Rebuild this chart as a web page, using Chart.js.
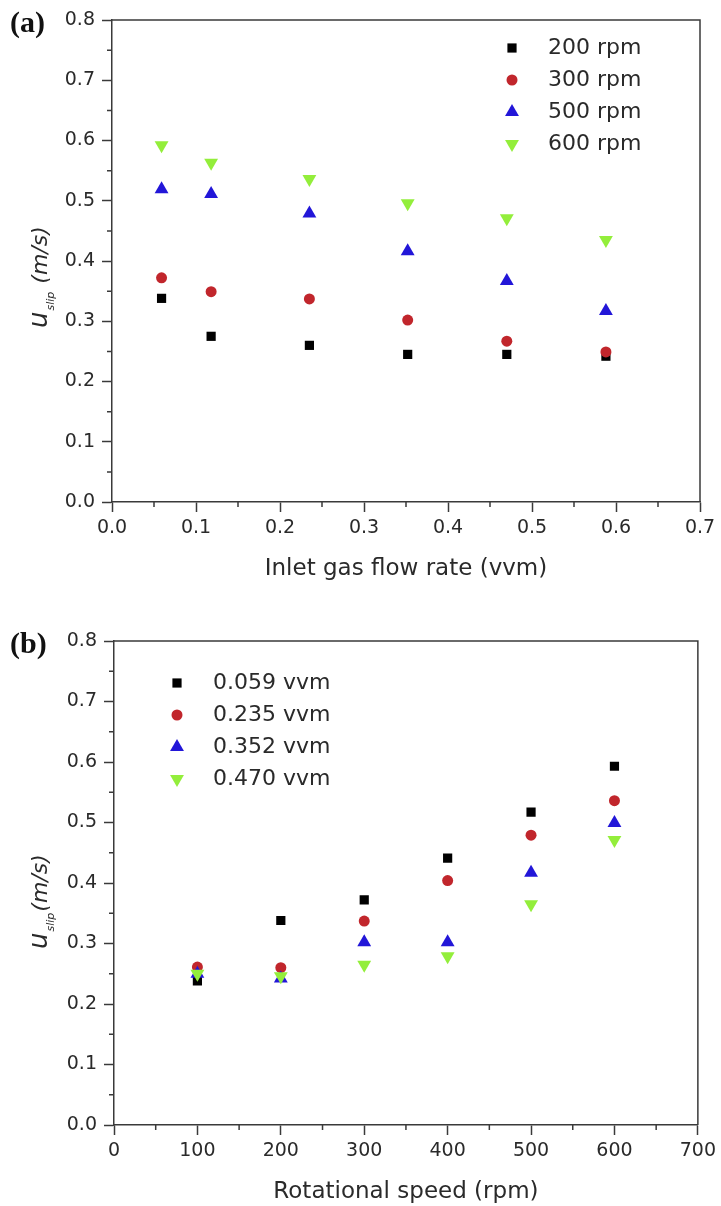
<!DOCTYPE html>
<html>
<head>
<meta charset="utf-8">
<script src="https://cdn.jsdelivr.net/npm/chart.js@4.4.1/dist/chart.umd.min.js"></script>
<style>
  html, body { margin: 0; padding: 0; background: #fff; }
  canvas { display: block; }
</style>
</head>
<body>
<canvas id="chartA" width="721" height="622"></canvas>
<canvas id="chartB" width="721" height="584"></canvas>
<script>
// (a) slip velocity against inlet gas flow rate
const flowRates = [0.059, 0.118, 0.235, 0.352, 0.470, 0.588];
const rpmLabels = ['200 rpm', '300 rpm', '500 rpm', '600 rpm'];
const slip200 = [0.338, 0.275, 0.260, 0.245, 0.245, 0.242];
const slip300 = [0.372, 0.349, 0.337, 0.302, 0.267, 0.249];
const slip500 = [0.519, 0.511, 0.479, 0.416, 0.367, 0.317];
const slip600 = [0.592, 0.563, 0.536, 0.496, 0.471, 0.435];

// (b) slip velocity against rotational speed
const speeds = [100, 200, 300, 400, 500, 600];
const vvmLabels = ['0.059 vvm', '0.235 vvm', '0.352 vvm', '0.470 vvm'];
const slip059 = [0.238, 0.338, 0.372, 0.441, 0.517, 0.593];
const slip235 = [0.261, 0.260, 0.337, 0.404, 0.479, 0.536];
const slip352 = [0.250, 0.242, 0.302, 0.302, 0.417, 0.499];
const slip470 = [0.250, 0.246, 0.265, 0.279, 0.365, 0.471];

const colors = ['#000000', '#c1262c', '#2216d8', '#93ee3b'];
const shapes = ['rect', 'circle', 'triangle', 'triangle'];
const rotations = [0, 0, 0, 180];
const radii = [6.5, 5.5, 8, 8];
const axisColor = '#3a3a3a';
const textColor = '#2a2a2a';
const family = '"DejaVu Sans", sans-serif';

function makeSets(xs, series, labels) {
    return series.map((ys, i) => ({
        label: labels[i],
        data: xs.map((x, j) => ({ x: x, y: ys[j] })),
        pointStyle: shapes[i],
        rotation: rotations[i],
        pointRadius: radii[i],
        pointHoverRadius: radii[i],
        pointBorderWidth: 0,
        backgroundColor: colors[i],
        borderColor: colors[i],
        order: -i
    }));
}

function drawMarker(ctx, i, x, y) {
    const r = radii[i];
    ctx.fillStyle = colors[i];
    ctx.beginPath();
    if (shapes[i] === 'rect') {
        const s = r * Math.SQRT1_2;
        ctx.rect(x - s, y - s, 2 * s, 2 * s);
    } else if (shapes[i] === 'circle') {
        ctx.arc(x, y, r, 0, Math.PI * 2);
    } else {
        const dir = rotations[i] ? -1 : 1;
        const h = r * Math.sqrt(3) / 2;
        ctx.moveTo(x, y - dir * r);
        ctx.lineTo(x + h, y + dir * r / 2);
        ctx.lineTo(x - h, y + dir * r / 2);
        ctx.closePath();
    }
    ctx.fill();
}

const panelPlugin = {
    id: 'panel',
    beforeDatasetsDraw(chart, args, opts) {
        const { ctx, chartArea: a, scales } = chart;
        ctx.save();
        ctx.strokeStyle = axisColor;
        ctx.lineWidth = 1.5;
        ctx.beginPath();
        ctx.moveTo(a.left, a.top);
        ctx.lineTo(a.right, a.top);
        ctx.lineTo(a.right, a.bottom);
        ctx.stroke();
        // minor ticks between the labelled ones
        ctx.beginPath();
        for (let k = 0; k < opts.xCount; k++) {
            const px = scales.x.getPixelForValue((k + 0.5) * opts.xStep);
            ctx.moveTo(px, a.bottom);
            ctx.lineTo(px, a.bottom + 5);
        }
        for (let k = 0; k < 8; k++) {
            const py = scales.y.getPixelForValue((k + 0.5) * 0.1);
            ctx.moveTo(a.left, py);
            ctx.lineTo(a.left - 5, py);
        }
        ctx.stroke();
        ctx.restore();
    },
    afterDraw(chart, args, opts) {
        const { ctx, chartArea: a } = chart;
        ctx.save();
        // legend inside the frame
        chart.data.datasets.forEach((ds, i) => {
            const y = opts.legendY + i * 32;
            drawMarker(ctx, i, opts.legendX, y);
            ctx.fillStyle = textColor;
            ctx.font = '22px ' + family;
            ctx.textAlign = 'left';
            ctx.textBaseline = 'middle';
            ctx.fillText(ds.label, opts.legendX + 36, y);
        });
        // y title with subscript
        ctx.save();
        ctx.translate(47, a.top + 308);
        ctx.rotate(-Math.PI / 2);
        ctx.fillStyle = textColor;
        ctx.textAlign = 'left';
        ctx.textBaseline = 'alphabetic';
        ctx.font = 'italic 26px ' + family;
        ctx.fillText('u', 0, 0);
        let w = ctx.measureText('u').width + 1;
        ctx.font = 'italic 11px ' + family;
        ctx.fillText('slip', w, 7);
        w += ctx.measureText('slip').width + 1;
        ctx.font = 'italic 22px ' + family;
        ctx.fillText(opts.yUnit, w, 0);
        ctx.restore();
        // panel tag
        ctx.fillStyle = '#111';
        ctx.font = 'bold 30px "Liberation Serif", serif';
        ctx.textAlign = 'left';
        ctx.textBaseline = 'middle';
        ctx.fillText(opts.tag, 10, a.top + 4);
        ctx.restore();
    }
};

function scaleOpts(min, max, step, digits, title, titlePad, size) {
    return {
        type: 'linear',
        min: min,
        max: max,
        ticks: {
            stepSize: step,
            autoSkip: false,
            maxRotation: 0,
            padding: 5,
            color: textColor,
            font: { family: family, size: 19 },
            callback: v => Number(v).toFixed(digits)
        },
        grid: {
            drawOnChartArea: false,
            drawTicks: true,
            tickLength: 10,
            tickColor: axisColor,
            tickWidth: 1.5
        },
        border: { display: true, color: axisColor, width: 1.5 },
        title: {
            display: !!title,
            text: title,
            color: textColor,
            font: { family: family, size: 23 },
            padding: { top: 0, bottom: titlePad }
        },
        afterFit: s => {
            if (s.isHorizontal()) s.height = size; else s.width = size;
        }
    };
}

function yAxis(left) {
    const o = scaleOpts(0, 0.8, 0.1, 1, '', 0, left);
    o.ticks.padding = 7;
    return o;
}

new Chart(document.getElementById('chartA').getContext('2d'), {
    type: 'scatter',
    data: { datasets: makeSets(flowRates, [slip200, slip300, slip500, slip600], rpmLabels) },
    plugins: [panelPlugin],
    options: {
        responsive: false,
        animation: false,
        devicePixelRatio: 1,
        layout: { padding: { top: 20, right: 21, left: 0, bottom: 0 } },
        scales: {
            x: scaleOpts(0, 0.7, 0.1, 1, 'Inlet gas flow rate (vvm)', 39, 120),
            y: yAxis(112)
        },
        plugins: {
            legend: { display: false },
            tooltip: { enabled: false },
            panel: { tag: '(a)', yUnit: ' (m/s)', xStep: 0.1, xCount: 7, legendX: 512, legendY: 48 }
        }
    }
});

new Chart(document.getElementById('chartB').getContext('2d'), {
    type: 'scatter',
    data: { datasets: makeSets(speeds, [slip059, slip235, slip352, slip470], vvmLabels) },
    plugins: [panelPlugin],
    options: {
        responsive: false,
        animation: false,
        devicePixelRatio: 1,
        layout: { padding: { top: 19, right: 22, left: 0, bottom: 0 } },
        scales: {
            x: scaleOpts(0, 700, 100, 0, 'Rotational speed (rpm)', 0, 81),
            y: yAxis(114)
        },
        plugins: {
            legend: { display: false },
            tooltip: { enabled: false },
            panel: { tag: '(b)', yUnit: '(m/s)', xStep: 100, xCount: 7, legendX: 177, legendY: 61 }
        }
    }
});
</script>
</body>
</html>
